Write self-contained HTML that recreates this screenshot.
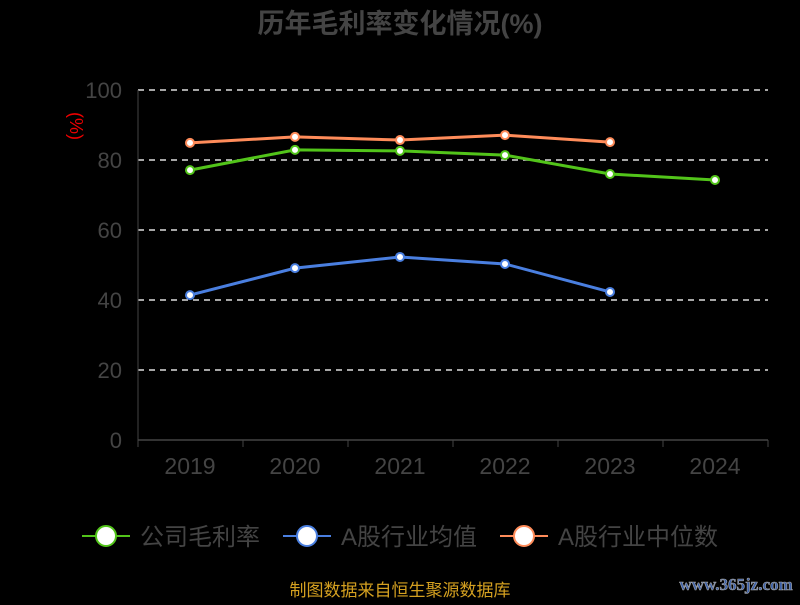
<!DOCTYPE html>
<html><head><meta charset="utf-8"><style>
body{margin:0;background:#000;width:800px;height:600px;overflow:hidden;font-family:"Liberation Sans","Noto Sans CJK SC",sans-serif}
</style></head><body>
<svg id="c" width="800" height="600">
<text x="400" y="33" text-anchor="middle" font-size="27" font-weight="bold" fill="#444" font-family="Liberation Sans, Noto Sans CJK SC, sans-serif">历年毛利率变化情况(%)</text>
<text x="70" y="126" text-anchor="middle" font-size="18" fill="#e00" transform="rotate(90 70 126)">(%)</text>
<g id="grid"></g><g id="axes"></g><g id="series"></g>
<g font-size="24" fill="#444" font-family="Liberation Sans, Noto Sans CJK SC, sans-serif">
<g><line x1="82" y1="536" x2="130" y2="536" stroke="#52c41a" stroke-width="2"/><circle cx="106" cy="536" r="10" fill="#fff" stroke="#52c41a" stroke-width="2"/><text x="140" y="545">公司毛利率</text></g>
<g><line x1="283" y1="536" x2="331" y2="536" stroke="#4a7fe0" stroke-width="2"/><circle cx="307" cy="536" r="10" fill="#fff" stroke="#4a7fe0" stroke-width="2"/><text x="341" y="545">A股行业均值</text></g>
<g><line x1="500" y1="536" x2="548" y2="536" stroke="#ff8c5a" stroke-width="2"/><circle cx="524" cy="536" r="10" fill="#fff" stroke="#ff8c5a" stroke-width="2"/><text x="558" y="545">A股行业中位数</text></g>
</g>
<text x="400" y="596" text-anchor="middle" font-size="17" fill="#d4a020" font-family="Liberation Sans, Noto Sans CJK SC, sans-serif">制图数据来自恒生聚源数据库</text>
<text x="736" y="590" text-anchor="middle" font-size="17" font-weight="bold" fill="#3a5fa8" stroke="#aaa" stroke-width="0.6" font-family="Liberation Serif, serif">www.365jz.com</text>
</svg>
<script>
const categories=["2019","2020","2021","2022","2023","2024"];
const companyMargin=[77.1,82.9,82.6,81.4,76.0,74.3];
const industryMean=[41.4,49.1,52.3,50.3,42.3];
const industryMedian=[84.9,86.6,85.7,87.1,85.1];
const yTicks=[0,20,40,60,80,100];
const NS="http://www.w3.org/2000/svg";
const x=i=>190+i*105, y=v=>440-v*3.5;
function mk(tag,attrs,parent){const e=document.createElementNS(NS,tag);for(const k in attrs)e.setAttribute(k,attrs[k]);parent.appendChild(e);return e;}
const grid=document.getElementById('grid'),axes=document.getElementById('axes'),ser=document.getElementById('series');
yTicks.forEach(t=>{
 if(t>0){const l=mk('line',{x1:138,x2:768,y1:y(t),y2:y(t),stroke:'#ddd','stroke-dasharray':'6,5','stroke-width':1.5},grid);
 
 }
 const tx=mk('text',{x:122,y:y(t)+8,'text-anchor':'end','font-size':22,fill:'#444'},axes);tx.textContent=t;
 
 
});
const ya=mk('line',{x1:138,x2:138,y1:90,y2:440,stroke:'#444'},axes);


const xa=mk('line',{x1:138,x2:768,y1:440,y2:440,stroke:'#444','stroke-width':1.5},axes);


for(let i=0;i<=categories.length;i++){mk('line',{x1:138+i*105,x2:138+i*105,y1:440,y2:447,stroke:'#444'},axes);}
categories.forEach((c,i)=>{const t=mk('text',{x:x(i),y:474,'text-anchor':'middle','font-size':23,fill:'#444'},axes);t.textContent=c;
 
 });
function series(vals,color,name){
 const p=mk('polyline',{points:vals.map((v,i)=>x(i)+','+y(v)).join(' '),fill:'none',stroke:color,'stroke-width':3},ser);
 
 
 vals.forEach((v,i)=>{const c=mk('circle',{cx:x(i),cy:y(v),r:4,fill:'#fff',stroke:color,'stroke-width':2},ser);
  
  });
}
series(industryMedian,'#ff8c5a','industry-median');
series(industryMean,'#4a7fe0','industry-mean');
series(companyMargin,'#52c41a','company-margin');
</script>
</body></html>
